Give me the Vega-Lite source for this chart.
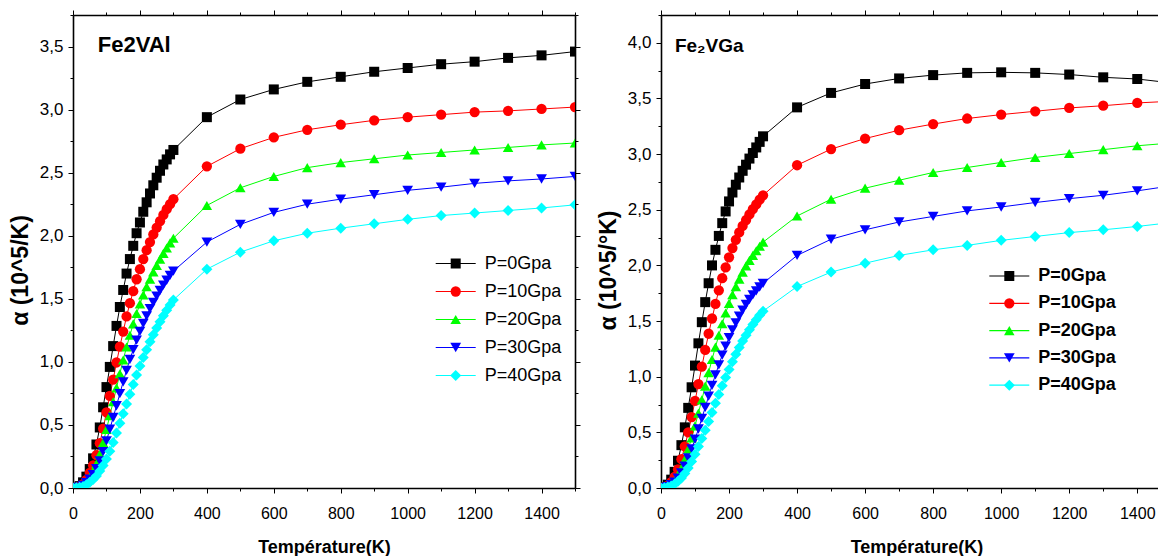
{
"$schema":"https://vega.github.io/schema/vega-lite/v6.json",
"autosize":{"type":"pad"},
"padding":{"left":9,"top":6,"right":0,"bottom":0},
"background":"white",
"spacing":86,
"bounds":"flush",
"config":{"view":{"stroke":null},"font":"Liberation Sans",
 "axis":{"grid":false,"domainColor":"black","domainWidth":1.6,"tickColor":"black","tickWidth":1,"labelColor":"black","titleColor":"black","labelFlush":false,"labelOverlap":false,"labelBound":false}},
"datasets":{
"vai":[
{"T":0,"P":0,"a":0},{"T":10,"P":0,"a":0.002},{"T":20,"P":0,"a":0.015},{"T":30,"P":0,"a":0.045},{"T":40,"P":0,"a":0.09},{"T":50,"P":0,"a":0.15},{"T":60,"P":0,"a":0.235},{"T":70,"P":0,"a":0.345},{"T":80,"P":0,"a":0.48},{"T":90,"P":0,"a":0.64},{"T":100,"P":0,"a":0.8},{"T":110,"P":0,"a":0.96},{"T":120,"P":0,"a":1.125},{"T":130,"P":0,"a":1.285},{"T":140,"P":0,"a":1.435},{"T":150,"P":0,"a":1.57},{"T":160,"P":0,"a":1.7},{"T":170,"P":0,"a":1.815},{"T":180,"P":0,"a":1.92},{"T":190,"P":0,"a":2.02},{"T":200,"P":0,"a":2.105},{"T":210,"P":0,"a":2.19},{"T":220,"P":0,"a":2.265},{"T":230,"P":0,"a":2.335},{"T":240,"P":0,"a":2.4},{"T":250,"P":0,"a":2.46},{"T":260,"P":0,"a":2.515},{"T":270,"P":0,"a":2.565},{"T":280,"P":0,"a":2.605},{"T":290,"P":0,"a":2.645},{"T":300,"P":0,"a":2.68},{"T":400,"P":0,"a":2.94},{"T":500,"P":0,"a":3.08},{"T":600,"P":0,"a":3.16},{"T":700,"P":0,"a":3.22},{"T":800,"P":0,"a":3.26},{"T":900,"P":0,"a":3.3},{"T":1000,"P":0,"a":3.33},{"T":1100,"P":0,"a":3.36},{"T":1200,"P":0,"a":3.38},{"T":1300,"P":0,"a":3.41},{"T":1400,"P":0,"a":3.43},{"T":1500,"P":0,"a":3.46},
{"T":0,"P":10,"a":0},{"T":10,"P":10,"a":0.001},{"T":20,"P":10,"a":0.01},{"T":30,"P":10,"a":0.03},{"T":40,"P":10,"a":0.065},{"T":50,"P":10,"a":0.12},{"T":60,"P":10,"a":0.18},{"T":70,"P":10,"a":0.26},{"T":80,"P":10,"a":0.355},{"T":90,"P":10,"a":0.47},{"T":100,"P":10,"a":0.6},{"T":110,"P":10,"a":0.73},{"T":120,"P":10,"a":0.86},{"T":130,"P":10,"a":0.995},{"T":140,"P":10,"a":1.12},{"T":150,"P":10,"a":1.24},{"T":160,"P":10,"a":1.36},{"T":170,"P":10,"a":1.465},{"T":180,"P":10,"a":1.56},{"T":190,"P":10,"a":1.655},{"T":200,"P":10,"a":1.735},{"T":210,"P":10,"a":1.815},{"T":220,"P":10,"a":1.885},{"T":230,"P":10,"a":1.95},{"T":240,"P":10,"a":2.01},{"T":250,"P":10,"a":2.065},{"T":260,"P":10,"a":2.115},{"T":270,"P":10,"a":2.165},{"T":280,"P":10,"a":2.21},{"T":290,"P":10,"a":2.25},{"T":300,"P":10,"a":2.29},{"T":400,"P":10,"a":2.55},{"T":500,"P":10,"a":2.69},{"T":600,"P":10,"a":2.78},{"T":700,"P":10,"a":2.84},{"T":800,"P":10,"a":2.88},{"T":900,"P":10,"a":2.915},{"T":1000,"P":10,"a":2.94},{"T":1100,"P":10,"a":2.96},{"T":1200,"P":10,"a":2.98},{"T":1300,"P":10,"a":2.99},{"T":1400,"P":10,"a":3.005},{"T":1500,"P":10,"a":3.02},
{"T":0,"P":20,"a":0},{"T":10,"P":20,"a":0.001},{"T":20,"P":20,"a":0.009},{"T":30,"P":20,"a":0.026},{"T":40,"P":20,"a":0.052},{"T":50,"P":20,"a":0.087},{"T":60,"P":20,"a":0.132},{"T":70,"P":20,"a":0.192},{"T":80,"P":20,"a":0.267},{"T":90,"P":20,"a":0.359},{"T":100,"P":20,"a":0.465},{"T":110,"P":20,"a":0.574},{"T":120,"P":20,"a":0.684},{"T":130,"P":20,"a":0.794},{"T":140,"P":20,"a":0.906},{"T":150,"P":20,"a":1.015},{"T":160,"P":20,"a":1.118},{"T":170,"P":20,"a":1.211},{"T":180,"P":20,"a":1.301},{"T":190,"P":20,"a":1.383},{"T":200,"P":20,"a":1.459},{"T":210,"P":20,"a":1.53},{"T":220,"P":20,"a":1.596},{"T":230,"P":20,"a":1.655},{"T":240,"P":20,"a":1.713},{"T":250,"P":20,"a":1.765},{"T":260,"P":20,"a":1.814},{"T":270,"P":20,"a":1.86},{"T":280,"P":20,"a":1.903},{"T":290,"P":20,"a":1.943},{"T":300,"P":20,"a":1.98},{"T":400,"P":20,"a":2.24},{"T":500,"P":20,"a":2.38},{"T":600,"P":20,"a":2.47},{"T":700,"P":20,"a":2.54},{"T":800,"P":20,"a":2.58},{"T":900,"P":20,"a":2.61},{"T":1000,"P":20,"a":2.64},{"T":1100,"P":20,"a":2.66},{"T":1200,"P":20,"a":2.68},{"T":1300,"P":20,"a":2.7},{"T":1400,"P":20,"a":2.72},{"T":1500,"P":20,"a":2.735},
{"T":0,"P":30,"a":0},{"T":10,"P":30,"a":0.001},{"T":20,"P":30,"a":0.007},{"T":30,"P":30,"a":0.021},{"T":40,"P":30,"a":0.042},{"T":50,"P":30,"a":0.07},{"T":60,"P":30,"a":0.105},{"T":70,"P":30,"a":0.154},{"T":80,"P":30,"a":0.215},{"T":90,"P":30,"a":0.288},{"T":100,"P":30,"a":0.373},{"T":110,"P":30,"a":0.466},{"T":120,"P":30,"a":0.559},{"T":130,"P":30,"a":0.652},{"T":140,"P":30,"a":0.748},{"T":150,"P":30,"a":0.842},{"T":160,"P":30,"a":0.933},{"T":170,"P":30,"a":1.019},{"T":180,"P":30,"a":1.097},{"T":190,"P":30,"a":1.173},{"T":200,"P":30,"a":1.242},{"T":210,"P":30,"a":1.305},{"T":220,"P":30,"a":1.365},{"T":230,"P":30,"a":1.422},{"T":240,"P":30,"a":1.471},{"T":250,"P":30,"a":1.521},{"T":260,"P":30,"a":1.566},{"T":270,"P":30,"a":1.608},{"T":280,"P":30,"a":1.647},{"T":290,"P":30,"a":1.685},{"T":300,"P":30,"a":1.72},{"T":400,"P":30,"a":1.95},{"T":500,"P":30,"a":2.09},{"T":600,"P":30,"a":2.185},{"T":700,"P":30,"a":2.25},{"T":800,"P":30,"a":2.29},{"T":900,"P":30,"a":2.325},{"T":1000,"P":30,"a":2.36},{"T":1100,"P":30,"a":2.385},{"T":1200,"P":30,"a":2.415},{"T":1300,"P":30,"a":2.435},{"T":1400,"P":30,"a":2.45},{"T":1500,"P":30,"a":2.47},
{"T":0,"P":40,"a":0},{"T":10,"P":40,"a":0.001},{"T":20,"P":40,"a":0.005},{"T":30,"P":40,"a":0.012},{"T":40,"P":40,"a":0.026},{"T":50,"P":40,"a":0.045},{"T":60,"P":40,"a":0.068},{"T":70,"P":40,"a":0.096},{"T":80,"P":40,"a":0.134},{"T":90,"P":40,"a":0.178},{"T":100,"P":40,"a":0.23},{"T":110,"P":40,"a":0.292},{"T":120,"P":40,"a":0.361},{"T":130,"P":40,"a":0.437},{"T":140,"P":40,"a":0.513},{"T":150,"P":40,"a":0.589},{"T":160,"P":40,"a":0.665},{"T":170,"P":40,"a":0.743},{"T":180,"P":40,"a":0.821},{"T":190,"P":40,"a":0.896},{"T":200,"P":40,"a":0.967},{"T":210,"P":40,"a":1.034},{"T":220,"P":40,"a":1.097},{"T":230,"P":40,"a":1.159},{"T":240,"P":40,"a":1.215},{"T":250,"P":40,"a":1.268},{"T":260,"P":40,"a":1.318},{"T":270,"P":40,"a":1.366},{"T":280,"P":40,"a":1.41},{"T":290,"P":40,"a":1.45},{"T":300,"P":40,"a":1.491},{"T":400,"P":40,"a":1.735},{"T":500,"P":40,"a":1.87},{"T":600,"P":40,"a":1.96},{"T":700,"P":40,"a":2.02},{"T":800,"P":40,"a":2.06},{"T":900,"P":40,"a":2.095},{"T":1000,"P":40,"a":2.13},{"T":1100,"P":40,"a":2.16},{"T":1200,"P":40,"a":2.18},{"T":1300,"P":40,"a":2.2},{"T":1400,"P":40,"a":2.22},{"T":1500,"P":40,"a":2.245}
],
"vga":[
{"T":0,"P":0,"a":0},{"T":10,"P":0,"a":0.005},{"T":20,"P":0,"a":0.03},{"T":30,"P":0,"a":0.075},{"T":40,"P":0,"a":0.145},{"T":50,"P":0,"a":0.245},{"T":60,"P":0,"a":0.385},{"T":70,"P":0,"a":0.545},{"T":80,"P":0,"a":0.72},{"T":90,"P":0,"a":0.905},{"T":100,"P":0,"a":1.1},{"T":110,"P":0,"a":1.3},{"T":120,"P":0,"a":1.49},{"T":130,"P":0,"a":1.67},{"T":140,"P":0,"a":1.84},{"T":150,"P":0,"a":2.0},{"T":160,"P":0,"a":2.14},{"T":170,"P":0,"a":2.265},{"T":180,"P":0,"a":2.38},{"T":190,"P":0,"a":2.485},{"T":200,"P":0,"a":2.575},{"T":210,"P":0,"a":2.655},{"T":220,"P":0,"a":2.725},{"T":230,"P":0,"a":2.79},{"T":240,"P":0,"a":2.85},{"T":250,"P":0,"a":2.905},{"T":260,"P":0,"a":2.96},{"T":270,"P":0,"a":3.01},{"T":280,"P":0,"a":3.06},{"T":290,"P":0,"a":3.11},{"T":300,"P":0,"a":3.16},{"T":400,"P":0,"a":3.42},{"T":500,"P":0,"a":3.55},{"T":600,"P":0,"a":3.63},{"T":700,"P":0,"a":3.68},{"T":800,"P":0,"a":3.71},{"T":900,"P":0,"a":3.73},{"T":1000,"P":0,"a":3.735},{"T":1100,"P":0,"a":3.73},{"T":1200,"P":0,"a":3.715},{"T":1300,"P":0,"a":3.69},{"T":1400,"P":0,"a":3.675},{"T":1500,"P":0,"a":3.64},
{"T":0,"P":10,"a":0},{"T":10,"P":10,"a":0.004},{"T":20,"P":10,"a":0.022},{"T":30,"P":10,"a":0.053},{"T":40,"P":10,"a":0.101},{"T":50,"P":10,"a":0.168},{"T":60,"P":10,"a":0.259},{"T":70,"P":10,"a":0.373},{"T":80,"P":10,"a":0.5},{"T":90,"P":10,"a":0.637},{"T":100,"P":10,"a":0.782},{"T":110,"P":10,"a":0.934},{"T":120,"P":10,"a":1.09},{"T":130,"P":10,"a":1.241},{"T":140,"P":10,"a":1.386},{"T":150,"P":10,"a":1.523},{"T":160,"P":10,"a":1.654},{"T":170,"P":10,"a":1.776},{"T":180,"P":10,"a":1.885},{"T":190,"P":10,"a":1.982},{"T":200,"P":10,"a":2.073},{"T":210,"P":10,"a":2.156},{"T":220,"P":10,"a":2.23},{"T":230,"P":10,"a":2.296},{"T":240,"P":10,"a":2.355},{"T":250,"P":10,"a":2.408},{"T":260,"P":10,"a":2.458},{"T":270,"P":10,"a":2.505},{"T":280,"P":10,"a":2.548},{"T":290,"P":10,"a":2.591},{"T":300,"P":10,"a":2.63},{"T":400,"P":10,"a":2.9},{"T":500,"P":10,"a":3.045},{"T":600,"P":10,"a":3.14},{"T":700,"P":10,"a":3.215},{"T":800,"P":10,"a":3.27},{"T":900,"P":10,"a":3.32},{"T":1000,"P":10,"a":3.355},{"T":1100,"P":10,"a":3.385},{"T":1200,"P":10,"a":3.415},{"T":1300,"P":10,"a":3.435},{"T":1400,"P":10,"a":3.46},{"T":1500,"P":10,"a":3.475},
{"T":0,"P":20,"a":0},{"T":10,"P":20,"a":0.003},{"T":20,"P":20,"a":0.016},{"T":30,"P":20,"a":0.037},{"T":40,"P":20,"a":0.069},{"T":50,"P":20,"a":0.112},{"T":60,"P":20,"a":0.174},{"T":70,"P":20,"a":0.255},{"T":80,"P":20,"a":0.348},{"T":90,"P":20,"a":0.45},{"T":100,"P":20,"a":0.558},{"T":110,"P":20,"a":0.673},{"T":120,"P":20,"a":0.792},{"T":130,"P":20,"a":0.915},{"T":140,"P":20,"a":1.037},{"T":150,"P":20,"a":1.155},{"T":160,"P":20,"a":1.266},{"T":170,"P":20,"a":1.373},{"T":180,"P":20,"a":1.476},{"T":190,"P":20,"a":1.572},{"T":200,"P":20,"a":1.659},{"T":210,"P":20,"a":1.736},{"T":220,"P":20,"a":1.809},{"T":230,"P":20,"a":1.877},{"T":240,"P":20,"a":1.94},{"T":250,"P":20,"a":1.996},{"T":260,"P":20,"a":2.045},{"T":270,"P":20,"a":2.09},{"T":280,"P":20,"a":2.132},{"T":290,"P":20,"a":2.172},{"T":300,"P":20,"a":2.209},{"T":400,"P":20,"a":2.444},{"T":500,"P":20,"a":2.595},{"T":600,"P":20,"a":2.694},{"T":700,"P":20,"a":2.765},{"T":800,"P":20,"a":2.835},{"T":900,"P":20,"a":2.88},{"T":1000,"P":20,"a":2.925},{"T":1100,"P":20,"a":2.97},{"T":1200,"P":20,"a":3.005},{"T":1300,"P":20,"a":3.04},{"T":1400,"P":20,"a":3.075},{"T":1500,"P":20,"a":3.1},
{"T":0,"P":30,"a":0},{"T":10,"P":30,"a":0.003},{"T":20,"P":30,"a":0.012},{"T":30,"P":30,"a":0.029},{"T":40,"P":30,"a":0.053},{"T":50,"P":30,"a":0.088},{"T":60,"P":30,"a":0.136},{"T":70,"P":30,"a":0.197},{"T":80,"P":30,"a":0.27},{"T":90,"P":30,"a":0.351},{"T":100,"P":30,"a":0.438},{"T":110,"P":30,"a":0.53},{"T":120,"P":30,"a":0.625},{"T":130,"P":30,"a":0.724},{"T":140,"P":30,"a":0.825},{"T":150,"P":30,"a":0.922},{"T":160,"P":30,"a":1.017},{"T":170,"P":30,"a":1.107},{"T":180,"P":30,"a":1.194},{"T":190,"P":30,"a":1.275},{"T":200,"P":30,"a":1.351},{"T":210,"P":30,"a":1.421},{"T":220,"P":30,"a":1.484},{"T":230,"P":30,"a":1.543},{"T":240,"P":30,"a":1.598},{"T":250,"P":30,"a":1.649},{"T":260,"P":30,"a":1.694},{"T":270,"P":30,"a":1.735},{"T":280,"P":30,"a":1.772},{"T":290,"P":30,"a":1.806},{"T":300,"P":30,"a":1.839},{"T":400,"P":30,"a":2.09},{"T":500,"P":30,"a":2.235},{"T":600,"P":30,"a":2.32},{"T":700,"P":30,"a":2.39},{"T":800,"P":30,"a":2.44},{"T":900,"P":30,"a":2.49},{"T":1000,"P":30,"a":2.525},{"T":1100,"P":30,"a":2.565},{"T":1200,"P":30,"a":2.6},{"T":1300,"P":30,"a":2.63},{"T":1400,"P":30,"a":2.67},{"T":1500,"P":30,"a":2.715},
{"T":0,"P":40,"a":0},{"T":10,"P":40,"a":0.002},{"T":20,"P":40,"a":0.008},{"T":30,"P":40,"a":0.019},{"T":40,"P":40,"a":0.037},{"T":50,"P":40,"a":0.061},{"T":60,"P":40,"a":0.089},{"T":70,"P":40,"a":0.131},{"T":80,"P":40,"a":0.18},{"T":90,"P":40,"a":0.238},{"T":100,"P":40,"a":0.303},{"T":110,"P":40,"a":0.372},{"T":120,"P":40,"a":0.444},{"T":130,"P":40,"a":0.52},{"T":140,"P":40,"a":0.598},{"T":150,"P":40,"a":0.679},{"T":160,"P":40,"a":0.761},{"T":170,"P":40,"a":0.841},{"T":180,"P":40,"a":0.919},{"T":190,"P":40,"a":0.993},{"T":200,"P":40,"a":1.065},{"T":210,"P":40,"a":1.135},{"T":220,"P":40,"a":1.201},{"T":230,"P":40,"a":1.263},{"T":240,"P":40,"a":1.32},{"T":250,"P":40,"a":1.372},{"T":260,"P":40,"a":1.421},{"T":270,"P":40,"a":1.468},{"T":280,"P":40,"a":1.512},{"T":290,"P":40,"a":1.552},{"T":300,"P":40,"a":1.589},{"T":400,"P":40,"a":1.81},{"T":500,"P":40,"a":1.94},{"T":600,"P":40,"a":2.02},{"T":700,"P":40,"a":2.09},{"T":800,"P":40,"a":2.14},{"T":900,"P":40,"a":2.18},{"T":1000,"P":40,"a":2.225},{"T":1100,"P":40,"a":2.26},{"T":1200,"P":40,"a":2.295},{"T":1300,"P":40,"a":2.32},{"T":1400,"P":40,"a":2.35},{"T":1500,"P":40,"a":2.385}
]},
"resolve":{"scale":{"x":"independent","y":"independent","stroke":"independent","fill":"independent","shape":"independent","size":"independent"},"legend":{"stroke":"independent","fill":"independent","shape":"independent","size":"independent"}},
"hconcat":[
{
"width":502,"height":473,
"data":{"name":"vai"},
"layer":[
{"mark":{"type":"line","strokeWidth":1,"clip":true},
"encoding":{
"x":{"field":"T","type":"quantitative","scale":{"domain":[0,1500],"nice":false,"zero":false},
 "axis":{"orient":"bottom","values":[0,100,200,300,400,500,600,700,800,900,1000,1100,1200,1300,1400,1500],"labelExpr":"datum.value % 200 == 0 ? format(datum.value,'d') : ''","labelFontSize":16,"labelPadding":12,"tickSize":{"condition":{"test":"datum.value % 200 == 0","value":5},"value":3},"title":"Température(K)","titleFontSize":18,"titleFontWeight":"bold","titlePadding":17}},
"y":{"field":"a","type":"quantitative","scale":{"domain":[0,3.75],"nice":false},
 "axis":{"orient":"left","values":[0,0.25,0.5,0.75,1,1.25,1.5,1.75,2,2.25,2.5,2.75,3,3.25,3.5,3.75],"labelExpr":"datum.value % 0.5 == 0 ? replace(format(datum.value,'.1f'),'.',',') : ''","labelFontSize":17,"labelPadding":5,"tickSize":{"condition":{"test":"datum.value % 0.5 == 0","value":5},"value":3},"title":"α (10^5/K)","titleFontSize":23,"titleFontWeight":"bold","titlePadding":7,"titleY":255}},
"stroke":{"field":"P","type":"nominal","scale":{"domain":[0,10,20,30,40,-1],"range":["#000000","#FF0000","#00FF00","#0000FF","#00FFFF","#000000"]},
 "legend":{"values":[0,10,20,30,40],"orient":"none","legendX":373.7,"legendY":239.5,"title":null,"symbolType":"M-4,0L4,0","symbolSize":100,"symbolStrokeWidth":1.2,"labelOpacity":0,"labelFontSize":18,"rowPadding":10,"padding":0,"zindex":0,"labelExpr":"' '"}}
}},
{"mark":{"type":"point","filled":true,"opacity":1,"strokeWidth":0,"clip":true},
"encoding":{
"x":{"field":"T","type":"quantitative","axis":{"orient":"top","values":[0,100,200,300,400,500,600,700,800,900,1000,1100,1200,1300,1400,1500],"labels":false,"title":null,"tickSize":{"condition":{"test":"datum.value % 200 == 0","value":5},"value":3}}},
"y":{"field":"a","type":"quantitative","axis":{"orient":"right","values":[0,0.25,0.5,0.75,1,1.25,1.5,1.75,2,2.25,2.5,2.75,3,3.25,3.5,3.75],"labels":false,"title":null,"tickSize":{"condition":{"test":"datum.value % 0.5 == 0","value":5},"value":3}}},
"fill":{"field":"P","type":"nominal","scale":{"domain":[0,10,20,30,40],"range":["#000000","#FF0000","#00FF00","#0000FF","#00FFFF"]},
 "legend":{"orient":"none","legendX":373.7,"legendY":239.5,"title":null,"symbolStrokeWidth":0,"labelFontSize":18,"labelColor":"black","labelOffset":20,"rowPadding":10,"padding":0,"zindex":1,"labelExpr":"'P=' + datum.label + 'Gpa'"}},
"shape":{"field":"P","type":"nominal","scale":{"domain":[0,10,20,30,40],"range":["square","circle","triangle-up","triangle-down","diamond"]},
 "legend":{"orient":"none","legendX":373.7,"legendY":239.5,"title":null,"symbolStrokeWidth":0,"labelFontSize":18,"labelColor":"black","labelOffset":20,"rowPadding":10,"padding":0,"zindex":1,"labelExpr":"'P=' + datum.label + 'Gpa'"}},
"size":{"field":"P","type":"nominal","scale":{"domain":[0,10,20,30,40],"range":[100,121,150,150,130]},
 "legend":{"orient":"none","legendX":373.7,"legendY":239.5,"title":null,"symbolStrokeWidth":0,"labelFontSize":18,"labelColor":"black","labelOffset":20,"rowPadding":10,"padding":0,"zindex":1,"labelExpr":"'P=' + datum.label + 'Gpa'"}}
}},
{"data":{"values":[{"label":"Fe2VAl"}]},
"mark":{"type":"text","align":"left","baseline":"alphabetic","fontSize":22,"fontWeight":"bold","color":"black"},
"encoding":{"x":{"datum":74,"type":"quantitative","axis":null},"y":{"datum":3.457,"type":"quantitative","axis":null},"text":{"field":"label"}}}
],
"resolve":{"axis":{"x":"independent","y":"independent"}}
},
{
"width":497,"height":473,
"data":{"name":"vga"},
"layer":[
{"mark":{"type":"line","strokeWidth":1,"clip":true},
"encoding":{
"x":{"field":"T","type":"quantitative","scale":{"domain":[0,1461],"nice":false,"zero":false},
 "axis":{"orient":"bottom","values":[0,100,200,300,400,500,600,700,800,900,1000,1100,1200,1300,1400],"labelExpr":"datum.value % 200 == 0 ? format(datum.value,'d') : ''","labelFontSize":16,"labelPadding":12,"tickSize":{"condition":{"test":"datum.value % 200 == 0","value":5},"value":3},"title":"Température(K)","titleX":255.5,"titleFontSize":18,"titleFontWeight":"bold","titlePadding":17}},
"y":{"field":"a","type":"quantitative","scale":{"domain":[0,4.25],"nice":false},
 "axis":{"orient":"left","values":[0,0.25,0.5,0.75,1,1.25,1.5,1.75,2,2.25,2.5,2.75,3,3.25,3.5,3.75,4,4.25],"labelExpr":"datum.value % 0.5 == 0 ? replace(format(datum.value,'.1f'),'.',',') : ''","labelFontSize":17,"labelPadding":5,"tickSize":{"condition":{"test":"datum.value % 0.5 == 0","value":5},"value":3},"title":"α (10^5/°K)","titleFontSize":23,"titleFontWeight":"bold","titlePadding":7,"titleY":255}},
"stroke":{"field":"P","type":"nominal","scale":{"domain":[0,10,20,30,40,-1],"range":["#000000","#FF0000","#00FF00","#0000FF","#00FFFF","#000000"]},
 "legend":{"values":[0,10,20,30,40],"orient":"none","legendX":339.3,"legendY":252,"title":null,"symbolType":"M-4,0L4,0","symbolSize":100,"symbolStrokeWidth":1.2,"labelOpacity":0,"labelFontSize":18,"labelFontWeight":"bold","rowPadding":9.3,"padding":0,"zindex":0,"labelExpr":"' '"}}
}},
{"mark":{"type":"point","filled":true,"opacity":1,"strokeWidth":0,"clip":true},
"encoding":{
"x":{"field":"T","type":"quantitative","axis":{"orient":"top","values":[0,100,200,300,400,500,600,700,800,900,1000,1100,1200,1300,1400],"labels":false,"title":null,"tickSize":{"condition":{"test":"datum.value % 200 == 0","value":5},"value":3}}},
"y":{"field":"a","type":"quantitative","axis":null},
"fill":{"field":"P","type":"nominal","scale":{"domain":[0,10,20,30,40],"range":["#000000","#FF0000","#00FF00","#0000FF","#00FFFF"]},
 "legend":{"orient":"none","legendX":339.3,"legendY":252,"title":null,"symbolStrokeWidth":0,"labelFontSize":18,"labelFontWeight":"bold","labelColor":"black","labelOffset":20,"rowPadding":9.3,"padding":0,"zindex":1,"labelExpr":"'P=' + datum.label + 'Gpa'"}},
"shape":{"field":"P","type":"nominal","scale":{"domain":[0,10,20,30,40],"range":["square","circle","triangle-up","triangle-down","diamond"]},
 "legend":{"orient":"none","legendX":339.3,"legendY":252,"title":null,"symbolStrokeWidth":0,"labelFontSize":18,"labelFontWeight":"bold","labelColor":"black","labelOffset":20,"rowPadding":9.3,"padding":0,"zindex":1,"labelExpr":"'P=' + datum.label + 'Gpa'"}},
"size":{"field":"P","type":"nominal","scale":{"domain":[0,10,20,30,40],"range":[100,121,150,150,130]},
 "legend":{"orient":"none","legendX":339.3,"legendY":252,"title":null,"symbolStrokeWidth":0,"labelFontSize":18,"labelFontWeight":"bold","labelColor":"black","labelOffset":20,"rowPadding":9.3,"padding":0,"zindex":1,"labelExpr":"'P=' + datum.label + 'Gpa'"}}
}},
{"data":{"values":[{"label":"Fe₂VGa"}]},
"mark":{"type":"text","align":"left","baseline":"alphabetic","fontSize":19,"fontWeight":"bold","color":"black"},
"encoding":{"x":{"datum":41,"type":"quantitative","axis":null},"y":{"datum":3.92,"type":"quantitative","axis":null},"text":{"field":"label"}}}
],
"resolve":{"axis":{"x":"independent","y":"independent"}}
}
]
}
